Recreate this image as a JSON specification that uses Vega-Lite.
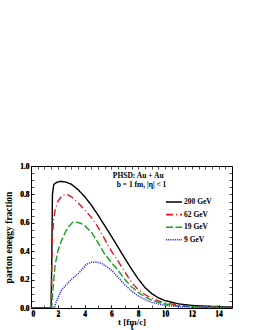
{
  "$schema": "https://vega.github.io/schema/vega-lite/v6.json",
  "width": 201,
  "height": 142,
  "autosize": {"type": "none"},
  "padding": {"left": 31, "top": 166, "right": 23, "bottom": 22},
  "background": "white",
  "config": {
    "font": "Liberation Serif",
    "view": {"stroke": "black", "strokeWidth": 1},
    "axis": {
      "labelFont": "Liberation Serif", "labelFontWeight": "bold", "labelFontSize": 7.5, "labelColor": "black",
      "titleFont": "Liberation Serif", "titleFontWeight": "bold", "titleFontSize": 9.5, "titleColor": "black",
      "domain": false, "grid": false, "tickColor": "black", "tickSize": -3, "tickWidth": 0.7, "labelPadding": 5
    },
    "legend": {"labelFont": "Liberation Serif", "labelFontWeight": "bold", "labelFontSize": 7.5, "labelColor": "black"}
  },
  "datasets": {
    "curves": [
      {"t": 0, "v": 0, "s": "200 GeV"}, {"t": 1.5, "v": 0, "s": "200 GeV"}, {"t": 1.55, "v": 0.35, "s": "200 GeV"}, {"t": 1.6, "v": 0.8, "s": "200 GeV"}, {"t": 1.7, "v": 0.87, "s": "200 GeV"}, {"t": 1.9, "v": 0.884, "s": "200 GeV"}, {"t": 2.2, "v": 0.892, "s": "200 GeV"}, {"t": 2.6, "v": 0.887, "s": "200 GeV"}, {"t": 3.0, "v": 0.872, "s": "200 GeV"}, {"t": 3.5, "v": 0.835, "s": "200 GeV"}, {"t": 4.0, "v": 0.785, "s": "200 GeV"}, {"t": 4.5, "v": 0.725, "s": "200 GeV"}, {"t": 5.0, "v": 0.655, "s": "200 GeV"}, {"t": 5.5, "v": 0.58, "s": "200 GeV"}, {"t": 6.0, "v": 0.505, "s": "200 GeV"}, {"t": 6.5, "v": 0.428, "s": "200 GeV"}, {"t": 7.0, "v": 0.35, "s": "200 GeV"}, {"t": 7.5, "v": 0.275, "s": "200 GeV"}, {"t": 8.0, "v": 0.205, "s": "200 GeV"}, {"t": 8.5, "v": 0.145, "s": "200 GeV"}, {"t": 9.0, "v": 0.102, "s": "200 GeV"}, {"t": 9.5, "v": 0.072, "s": "200 GeV"}, {"t": 10.0, "v": 0.052, "s": "200 GeV"}, {"t": 11.0, "v": 0.029, "s": "200 GeV"}, {"t": 12.0, "v": 0.018, "s": "200 GeV"}, {"t": 13.0, "v": 0.013, "s": "200 GeV"}, {"t": 14.0, "v": 0.01, "s": "200 GeV"}, {"t": 15.0, "v": 0.009, "s": "200 GeV"},
      {"t": 0, "v": 0, "s": "62 GeV"}, {"t": 1.5, "v": 0, "s": "62 GeV"}, {"t": 1.55, "v": 0.25, "s": "62 GeV"}, {"t": 1.6, "v": 0.5, "s": "62 GeV"}, {"t": 1.7, "v": 0.63, "s": "62 GeV"}, {"t": 1.8, "v": 0.69, "s": "62 GeV"}, {"t": 2.0, "v": 0.75, "s": "62 GeV"}, {"t": 2.3, "v": 0.79, "s": "62 GeV"}, {"t": 2.6, "v": 0.803, "s": "62 GeV"}, {"t": 3.0, "v": 0.785, "s": "62 GeV"}, {"t": 3.5, "v": 0.742, "s": "62 GeV"}, {"t": 4.0, "v": 0.692, "s": "62 GeV"}, {"t": 4.5, "v": 0.638, "s": "62 GeV"}, {"t": 5.0, "v": 0.57, "s": "62 GeV"}, {"t": 5.5, "v": 0.485, "s": "62 GeV"}, {"t": 6.0, "v": 0.4, "s": "62 GeV"}, {"t": 6.5, "v": 0.33, "s": "62 GeV"}, {"t": 7.0, "v": 0.255, "s": "62 GeV"}, {"t": 7.5, "v": 0.18, "s": "62 GeV"}, {"t": 8.0, "v": 0.13, "s": "62 GeV"}, {"t": 8.5, "v": 0.095, "s": "62 GeV"}, {"t": 9.0, "v": 0.07, "s": "62 GeV"}, {"t": 9.5, "v": 0.05, "s": "62 GeV"}, {"t": 10.0, "v": 0.035, "s": "62 GeV"}, {"t": 11.0, "v": 0.02, "s": "62 GeV"}, {"t": 12.0, "v": 0.012, "s": "62 GeV"}, {"t": 13.0, "v": 0.009, "s": "62 GeV"}, {"t": 15.0, "v": 0.007, "s": "62 GeV"},
      {"t": 0, "v": 0, "s": "19 GeV"}, {"t": 1.55, "v": 0, "s": "19 GeV"}, {"t": 1.6, "v": 0.08, "s": "19 GeV"}, {"t": 1.7, "v": 0.2, "s": "19 GeV"}, {"t": 1.8, "v": 0.3, "s": "19 GeV"}, {"t": 2.0, "v": 0.4, "s": "19 GeV"}, {"t": 2.3, "v": 0.48, "s": "19 GeV"}, {"t": 2.7, "v": 0.56, "s": "19 GeV"}, {"t": 3.1, "v": 0.603, "s": "19 GeV"}, {"t": 3.4, "v": 0.605, "s": "19 GeV"}, {"t": 3.7, "v": 0.597, "s": "19 GeV"}, {"t": 4.0, "v": 0.58, "s": "19 GeV"}, {"t": 4.5, "v": 0.535, "s": "19 GeV"}, {"t": 5.0, "v": 0.46, "s": "19 GeV"}, {"t": 5.5, "v": 0.38, "s": "19 GeV"}, {"t": 6.0, "v": 0.32, "s": "19 GeV"}, {"t": 6.5, "v": 0.265, "s": "19 GeV"}, {"t": 7.0, "v": 0.2, "s": "19 GeV"}, {"t": 7.5, "v": 0.15, "s": "19 GeV"}, {"t": 8.0, "v": 0.11, "s": "19 GeV"}, {"t": 8.5, "v": 0.08, "s": "19 GeV"}, {"t": 9.0, "v": 0.055, "s": "19 GeV"}, {"t": 9.5, "v": 0.04, "s": "19 GeV"}, {"t": 10.0, "v": 0.028, "s": "19 GeV"}, {"t": 11.0, "v": 0.015, "s": "19 GeV"}, {"t": 12.0, "v": 0.009, "s": "19 GeV"}, {"t": 15.0, "v": 0.005, "s": "19 GeV"},
      {"t": 0, "v": 0, "s": "9 GeV"}, {"t": 1.75, "v": 0, "s": "9 GeV"}, {"t": 1.85, "v": 0.035, "s": "9 GeV"}, {"t": 2.0, "v": 0.07, "s": "9 GeV"}, {"t": 2.3, "v": 0.13, "s": "9 GeV"}, {"t": 2.7, "v": 0.17, "s": "9 GeV"}, {"t": 3.0, "v": 0.2, "s": "9 GeV"}, {"t": 3.5, "v": 0.24, "s": "9 GeV"}, {"t": 3.8, "v": 0.27, "s": "9 GeV"}, {"t": 4.1, "v": 0.305, "s": "9 GeV"}, {"t": 4.5, "v": 0.322, "s": "9 GeV"}, {"t": 4.9, "v": 0.324, "s": "9 GeV"}, {"t": 5.3, "v": 0.312, "s": "9 GeV"}, {"t": 5.7, "v": 0.288, "s": "9 GeV"}, {"t": 6.1, "v": 0.258, "s": "9 GeV"}, {"t": 6.5, "v": 0.215, "s": "9 GeV"}, {"t": 7.0, "v": 0.165, "s": "9 GeV"}, {"t": 7.5, "v": 0.12, "s": "9 GeV"}, {"t": 8.0, "v": 0.085, "s": "9 GeV"}, {"t": 8.5, "v": 0.06, "s": "9 GeV"}, {"t": 9.0, "v": 0.04, "s": "9 GeV"}, {"t": 9.5, "v": 0.028, "s": "9 GeV"}, {"t": 10.0, "v": 0.018, "s": "9 GeV"}, {"t": 11.0, "v": 0.01, "s": "9 GeV"}, {"t": 12.0, "v": 0.006, "s": "9 GeV"}, {"t": 15.0, "v": 0.004, "s": "9 GeV"}
    ],
    "notes": [
      {"t": 8.0, "v": 0.93, "label": "PHSD: Au + Au"},
      {"t": 8.25, "v": 0.869, "label": "b = 1 fm, |η| < 1"}
    ]
  },
  "layer": [
    {
      "data": {"name": "curves"},
      "mark": {"type": "line", "strokeWidth": 1.4, "clip": true},
      "encoding": {
        "x": {"field": "t", "type": "quantitative", "scale": {"domain": [0, 15], "nice": false},
          "axis": {"title": "t [fm/c]", "titleBaseline": "top", "titleY": 9.5, "titleFontSize": 9, "format": "d", "labelPadding": 4.5,
            "values": [0, 0.5, 1, 1.5, 2, 2.5, 3, 3.5, 4, 4.5, 5, 5.5, 6, 6.5, 7, 7.5, 8, 8.5, 9, 9.5, 10, 10.5, 11, 11.5, 12, 12.5, 13, 13.5, 14, 14.5],
            "labelExpr": "datum.value % 2 == 0 ? datum.label : ''"}},
        "y": {"field": "v", "type": "quantitative", "scale": {"domain": [0, 1], "nice": false},
          "axis": {"title": "parton energy fraction", "format": ".1f", "titlePadding": 6,
            "values": [0, 0.05, 0.1, 0.15, 0.2, 0.25, 0.3, 0.35, 0.4, 0.45, 0.5, 0.55, 0.6, 0.65, 0.7, 0.75, 0.8, 0.85, 0.9, 0.95, 1.0],
            "labelExpr": "abs(datum.value*5 - round(datum.value*5)) < 0.001 ? datum.label : ''"}},
        "color": {"field": "s", "type": "nominal", "scale": {"domain": ["200 GeV", "62 GeV", "19 GeV", "9 GeV"], "range": ["#000000", "#e8141c", "#1e9e1e", "#2828e6"]},
          "legend": {"title": null, "orient": "none", "legendX": 137, "legendY": 30, "symbolType": "M-1.6,0H1.6", "symbolSize": 100, "symbolStrokeWidth": 1.6, "labelOffset": 4, "rowPadding": 2.6}},
        "strokeDash": {"field": "s", "type": "nominal", "scale": {"domain": ["200 GeV", "62 GeV", "19 GeV", "9 GeV"], "range": [[1, 0], [7, 3, 1, 3], [7, 2.5], [1.2, 1]]}},
        "order": {"field": "t", "type": "quantitative"}
      }
    },
    {
      "data": {"name": "curves"},
      "mark": {"type": "point", "opacity": 0},
      "encoding": {
        "x": {"field": "t", "type": "quantitative", "scale": {"domain": [0, 15], "nice": false},
          "axis": {"orient": "top", "labels": false, "title": null,
            "values": [0, 0.5, 1, 1.5, 2, 2.5, 3, 3.5, 4, 4.5, 5, 5.5, 6, 6.5, 7, 7.5, 8, 8.5, 9, 9.5, 10, 10.5, 11, 11.5, 12, 12.5, 13, 13.5, 14, 14.5]}},
        "y": {"field": "v", "type": "quantitative", "scale": {"domain": [0, 1], "nice": false},
          "axis": {"orient": "right", "labels": false, "title": null,
            "values": [0, 0.05, 0.1, 0.15, 0.2, 0.25, 0.3, 0.35, 0.4, 0.45, 0.5, 0.55, 0.6, 0.65, 0.7, 0.75, 0.8, 0.85, 0.9, 0.95, 1.0]}}
      }
    },
    {
      "data": {"name": "notes"},
      "mark": {"type": "text", "font": "Liberation Serif", "fontWeight": "bold", "fontSize": 7.5, "color": "black", "align": "center", "baseline": "middle"},
      "encoding": {
        "x": {"field": "t", "type": "quantitative"},
        "y": {"field": "v", "type": "quantitative"},
        "text": {"field": "label"}
      }
    }
  ],
  "resolve": {"axis": {"x": "independent", "y": "independent"}}
}
